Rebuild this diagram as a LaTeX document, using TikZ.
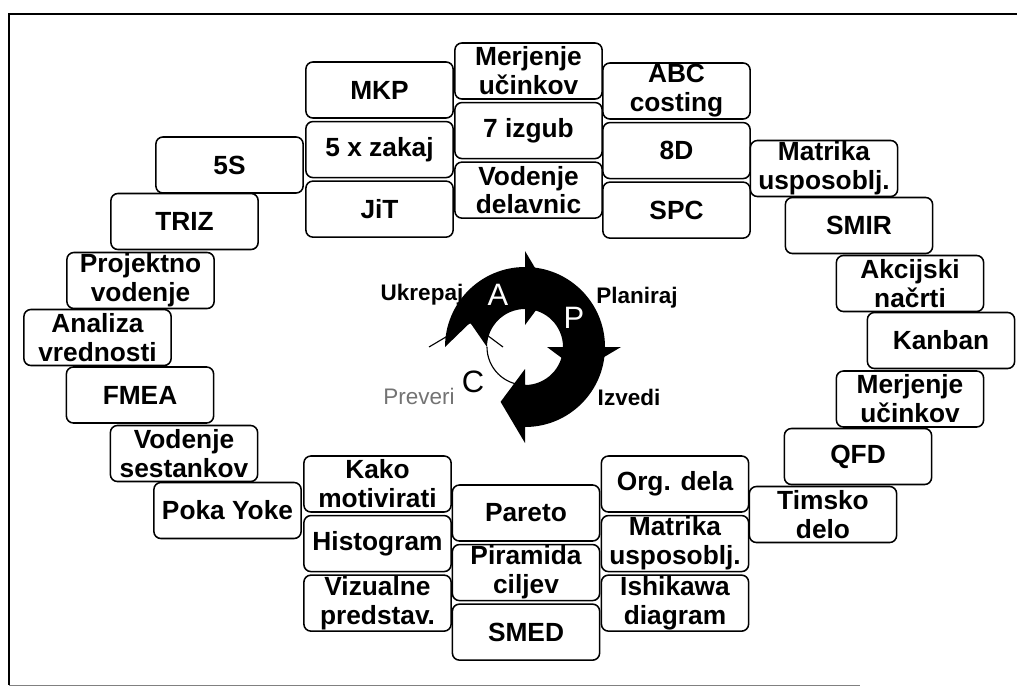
\documentclass[tikz,border=0pt]{standalone}
\usepackage{fontspec}
\setmainfont{Liberation Sans}
\usetikzlibrary{positioning}

\begin{document}
\begin{tikzpicture}[
    x=0.025cm, y=-0.025cm,
    font=\fontsize{18.7}{20.5}\selectfont\bfseries,
    node distance=0.05cm,
    tool/.style={draw, line width=1.1pt, rounded corners=5pt, align=center, inner sep=0pt, minimum width=3.68cm, minimum height=1.4cm, fill=white},
    phase/.style={font=\fontsize{16}{18}\selectfont\bfseries, inner sep=0pt},
    letter/.style={font=\fontsize{22}{22}\selectfont, inner sep=0pt}
]

\useasboundingbox (0,0) rectangle (1017,686);

% Frame
\draw[line width=2pt] (1017,14) -- (9,14) -- (9,685);
\draw[line width=0.6pt, black!50] (9,685) -- (860,685);

% Top stacks
\node[tool] (mkp) at (379.5,90) {MKP};
\node[tool, below=of mkp] (zakaj) {5 x zakaj};
\node[tool, below=of zakaj] (jit) {JiT};

\node[tool] (merA) at (528.5,71) {Merjenje\\učinkov};
\node[tool, below=of merA] (izgub) {7 izgub};
\node[tool, below=of izgub] (delavnice) {Vodenje\\delavnic};

\node[tool] (abc) at (676.5,91) {ABC\\costing};
\node[tool, below=of abc] (osemd) {8D};
\node[tool, below=of osemd] (spc) {SPC};

% Left side (top to bottom)
\node[tool] (fives) at (229.5,165) {5S};
\node[tool] (triz) at (184.5,221.5) {TRIZ};
\node[tool] (projektno) at (140.5,280.5) {Projektno\\vodenje};
\node[tool] (analiza) at (97.5,337.5) {Analiza\\vrednosti};
\node[tool] (fmea) at (140,395) {FMEA};
\node[tool] (sestanki) at (184,453.5) {Vodenje\\sestankov};
\node[tool] (poka) at (227.5,510.5) {Poka Yoke};

% Right side (top to bottom)
\node[tool] (matA) at (824,168.5) {Matrika\\usposoblj.};
\node[tool] (smir) at (859,225.5) {SMIR};
\node[tool] (akcije) at (910,283.5) {Akcijski\\načrti};
\node[tool] (kanban) at (941,340.5) {Kanban};
\node[tool] (merB) at (910,399) {Merjenje\\učinkov};
\node[tool] (qfd) at (858,456.5) {QFD};
\node[tool] (timsko) at (823,514.5) {Timsko\\delo};

% Bottom stacks
\node[tool] (kako) at (377.5,484) {Kako\\motivirati};
\node[tool, below=of kako] (histogram) {Histogram};
\node[tool, below=of histogram] (vizualne) {Vizualne\\predstav.};

\node[tool] (pareto) at (526,513) {Pareto};
\node[tool, below=of pareto] (piramida) {Piramida\\ciljev};
\node[tool, below=of piramida] (smed) {SMED};

\node[tool] (org) at (675,484) {Org. dela};
\node[tool, below=of org] (matB) {Matrika\\usposoblj.};
\node[tool, below=of matB] (ishikawa) {Ishikawa\\diagram};

% PDCA wheel
\coordinate (ctr) at (525,347);
\begin{scope}[shift={(ctr)}, y=0.025cm]
  % C (white, only outline shows)
  \draw[line width=0.8pt] (180:96) -- (156:60) -- (180:22);
  \draw[line width=0.8pt] (180:38) arc[start angle=180, end angle=270, radius=38];
  % A
  \fill (180:80) arc[start angle=180, end angle=90, radius=80] -- (90:96) -- (66:60) -- (90:22)
    -- (90:38) arc[start angle=90, end angle=180, radius=38] -- (156:60) -- cycle;
  % P
  \fill (90:80) arc[start angle=90, end angle=0, radius=80] -- (0:96) -- (-24:60) -- (0:22)
    -- (0:38) arc[start angle=0, end angle=90, radius=38] -- (66:60) -- cycle;
  % D
  \fill (0:80) arc[start angle=0, end angle=-90, radius=80] -- (-90:96) -- (-114:60) -- (-90:22)
    -- (-90:38) arc[start angle=-90, end angle=0, radius=38] -- (-24:60) -- cycle;
\end{scope}

\node[letter, white] (la) at (498,295) {A};
\node[letter, white] (lp) at (574,318) {P};
\node[letter] (lc) at (473,382) {C};

\node[phase] (ukrepaj) at (422,295) {Ukrepaj};
\node[phase] (planiraj) at (637,298) {Planiraj};
\node[phase] (izvedi) at (629,397) {Izvedi};
\node[phase, black!55, font=\fontsize{16}{18}\selectfont\mdseries] (preveri) at (419,396) {Preveri};

\end{tikzpicture}
\end{document}
